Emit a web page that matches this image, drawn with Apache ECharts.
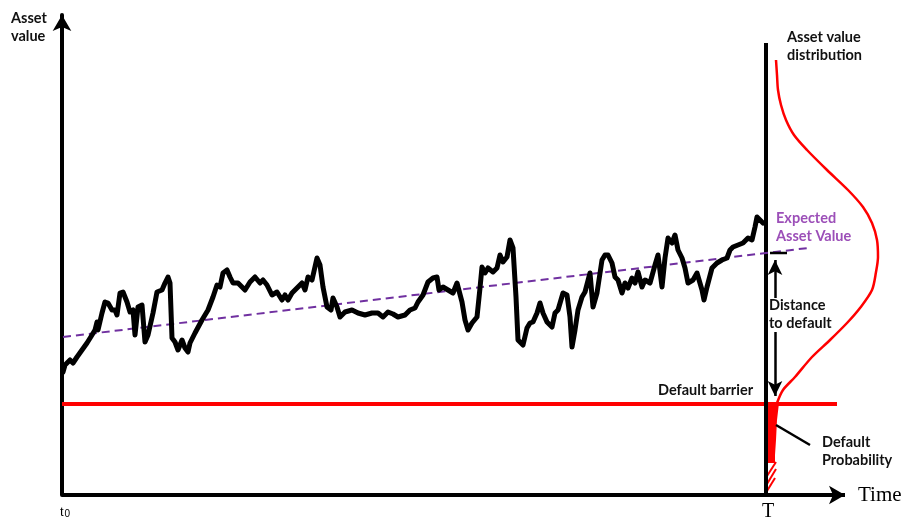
<!DOCTYPE html>
<html>
<head>
<meta charset="utf-8">
<script src="https://cdn.jsdelivr.net/npm/echarts@6/dist/echarts.min.js"></script>
<style>html,body{margin:0;padding:0;background:#fff}#c{width:903px;height:519px}</style>
</head>
<body>
<div id="c"></div>
<script>
// ---- data (time units along x, asset value units along y) ----
const pathTime = [63,65,70,73,77,82,87,92,95,97,98,102,105,108,112,115,117,120,123,127,130,133,135,138,142,145,148,153,157,162,165,168,170,172,175,178,182,185,188,190,195,202,208,213,217,220,223,227,230,
233,238,245,250,255,260,263,267,272,277,282,285,288,292,297,302,305,308,312,317,320,323,327,331,333,337,340,345,352,358,365,372,378,383,388,393,398,
405,410,415,418,423,428,433,437,439,443,448,453,457,459,462,465,468,472,477,480,482,485,488,493,497,500,503,507,510,513,516,518,523,527,530,533,537,540,543,547,552,555,558,563,567,570,572,575,578,582,585,590,
593,597,602,605,608,612,615,618,622,625,628,632,635,638,642,645,650,655,658,662,665,668,672,675,678,682,685,688,693,697,702,704,707,712,717,722,727,730,733,738,743,748,752,755,757,762,763];
const pathValue = [128,135,140,137,143,150,157,165,170,178,170,187,198,197,190,190,185,207,208,198,188,190,165,193,195,158,165,187,208,210,217,223,217,162,158,150,160,152,148,157,167,180,190,203,215,213,227,230,223,
217,217,210,218,223,217,220,215,205,208,200,205,200,207,212,217,210,223,220,242,235,213,193,190,202,193,183,188,190,187,185,187,187,183,188,186,183,
185,190,192,198,205,218,222,223,210,213,210,207,217,218,198,180,170,177,183,212,233,227,232,228,232,245,238,243,260,252,203,160,155,172,177,178,187,197,187,178,173,187,190,207,205,183,153,170,190,203,208,227,
193,207,240,245,245,237,223,220,207,217,212,222,217,228,213,220,217,235,245,213,242,262,257,265,250,242,232,217,220,227,210,200,213,232,237,240,242,250,253,255,257,262,260,273,283,278,277];

const expectedTime = [63, 808];
const expectedValue = [163, 252];

const barrierTime = [62, 837];
const barrierValue = [96, 96];

const maturityTime = 766;
const maturityValue = [5, 457];

const timeAxisFrom = [62, 5];
const timeAxisTo = [845, 5];

// rotated density of the asset value at T (offset from T, value)
const distDensity = [776,777,778,781,786,794,807,827,848,863,872,877,878,876,872,860,847,830,812,795,783,777];
const distValue   = [440,425,410,395,380,365,350,330,310,293,277,260,243,228,210,192,177,160,143,123,110,97];

// default probability tail (below barrier)
const tailDensity = [767,779,777,776,775,775,767];
const tailValue   = [97,97,80,60,45,37,37];
const hatchFrom = [[767,24],[767,16],[767,9]];
const hatchTo   = [[776,38],[776,31],[775,22]];

const ddTime = 775;
const ddTop = [202, 240];
const ddBottom = [168, 104];
const evTick = [[770,247],[787,247]];
const dpPointer = [[776,75],[810,55]];

const zip = (a, b) => a.map((v, i) => [v, b[i]]);

const chart = echarts.init(document.getElementById('c'), null, {renderer: 'canvas'});
const bold = 'bold 14.5px Lato, "Open Sans", sans-serif';
const txt = (text, x, y, extra) => Object.assign({
  type: 'text', x: x, y: y, silent: true,
  style: Object.assign({text: text, font: bold, fill: '#111', lineHeight: 18, verticalAlign: 'top'}, extra || {})
});

chart.setOption({
  animation: false,
  grid: {left: 62, right: 0, top: 15, bottom: 24},
  xAxis: {
    type: 'value', min: 62, max: 903,
    axisLine: {show: false},
    axisTick: {show: false}, axisLabel: {show: false}, splitLine: {show: false}
  },
  yAxis: {
    type: 'value', min: 5, max: 485,
    axisLine: {show: true, onZero: false, symbol: ['none', 'arrow'], symbolSize: [14, 16],
      lineStyle: {color: '#000', width: 4}},
    axisTick: {show: false}, axisLabel: {show: false}, splitLine: {show: false}
  },
  series: [
    {
      type: 'line', name: 'barrier', clip: false, symbol: 'none', silent: true,
      data: zip(barrierTime, barrierValue),
      lineStyle: {color: '#ff0000', width: 4}
    },
    {
      type: 'custom', name: 'tail', clip: false, silent: true,
      data: [0],
      renderItem: function (params, api) {
        const pts = tailDensity.map((x, i) => api.coord([x, tailValue[i]]));
        const children = [{type: 'polygon', shape: {points: pts}, style: {fill: '#ff0000'}}];
        hatchFrom.forEach((p, i) => {
          const a = api.coord(p), b = api.coord(hatchTo[i]);
          children.push({type: 'line', shape: {x1: a[0], y1: a[1], x2: b[0], y2: b[1]},
            style: {stroke: '#ff0000', lineWidth: 2}});
        });
        return {type: 'group', children: children};
      }
    },
    {
      type: 'line', name: 'maturity', clip: false, symbol: 'none', silent: true,
      data: zip([maturityTime, maturityTime], maturityValue),
      lineStyle: {color: '#000', width: 4},
      markLine: {
        silent: true, symbol: ['none', 'arrow'], symbolSize: [11, 15],
        label: {show: false},
        lineStyle: {color: '#000', width: 2.5, type: 'solid'},
        data: [
          [{coord: [ddTime, ddTop[0]]}, {coord: [ddTime, ddTop[1]]}],
          [{coord: [ddTime, ddBottom[0]]}, {coord: [ddTime, ddBottom[1]]}]
        ]
      }
    },
    {
      type: 'line', name: 'timeAxis', clip: false, symbol: 'none', silent: true,
      data: [],
      markLine: {
        silent: true, symbol: ['none', 'arrow'], symbolSize: [14, 16],
        label: {show: false},
        lineStyle: {color: '#000', width: 4, type: 'solid'},
        data: [[{coord: timeAxisFrom}, {coord: timeAxisTo}]]
      }
    },
    {
      type: 'line', name: 'distribution', clip: false, symbol: 'none', silent: true, smooth: 0.3,
      data: zip(distDensity, distValue),
      lineStyle: {color: '#ff0000', width: 2.5}
    },
    {
      type: 'line', name: 'expected', clip: false, symbol: 'none', silent: true,
      data: zip(expectedTime, expectedValue),
      lineStyle: {color: '#7030a0', width: 2, type: [8, 5]}
    },
    {
      type: 'line', name: 'path', clip: false, symbol: 'none', silent: true,
      data: zip(pathTime, pathValue),
      lineStyle: {color: '#000', width: 5, join: 'round', cap: 'round'}
    },
    {
      type: 'line', name: 'evTick', clip: false, symbol: 'none', silent: true,
      data: evTick, lineStyle: {color: '#000', width: 2.5}
    },
    {
      type: 'line', name: 'pointer', clip: false, symbol: 'none', silent: true,
      data: dpPointer, lineStyle: {color: '#000', width: 2.5}
    }
  ],
  graphic: [
    txt('Asset\nvalue', 11, 9),
    txt('Asset value\ndistribution', 787, 28),
    txt('Expected\nAsset Value', 776, 209, {fill: '#9c4fb8'}),
    txt('Distance\nto default', 769, 296),
    txt('Default barrier', 658, 381),
    txt('Default\nProbability', 822, 433),
    {type: 'text', x: 858, y: 495, silent: true,
      style: {text: 'Time', font: '21px "Liberation Serif", "DejaVu Serif", serif', fill: '#000', verticalAlign: 'middle'}},
    {type: 'text', x: 768, y: 512, silent: true,
      style: {text: 'T', font: '20px "Liberation Serif", "DejaVu Serif", serif', fill: '#000', align: 'center', verticalAlign: 'middle'}},
    {type: 'text', x: 60, y: 512, silent: true,
      style: {text: 't', font: '13px "Liberation Sans", sans-serif', fill: '#000', verticalAlign: 'middle'}},
    {type: 'text', x: 64.5, y: 514, silent: true,
      style: {text: '0', font: '10px "Liberation Sans", sans-serif', fill: '#000', verticalAlign: 'middle'}}
  ]
});
</script>
</body>
</html>
